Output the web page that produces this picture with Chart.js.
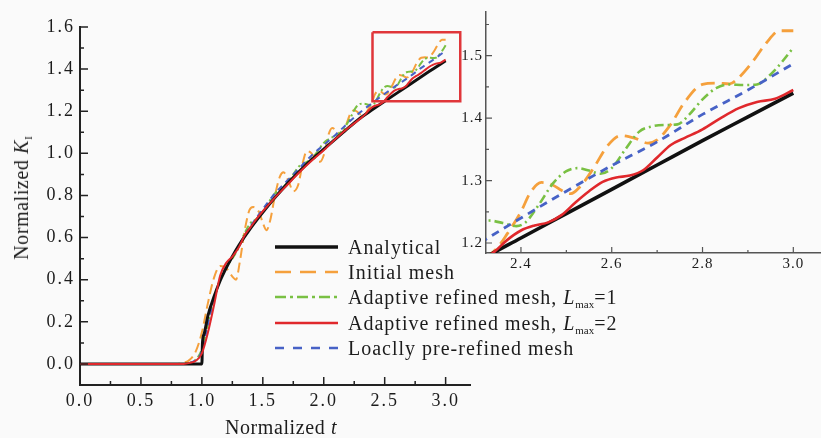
<!DOCTYPE html>
<html>
<head>
<meta charset="utf-8">
<script src="https://cdn.jsdelivr.net/npm/chart.js@4.4.1/dist/chart.umd.min.js"></script>
<style>
  html, body { margin: 0; padding: 0; background: #fafafa; }
  #wrap { position: relative; width: 821px; height: 438px; overflow: hidden;
          font-family: "Liberation Serif", "Times New Roman", serif; color: #1c1c1c; }
  #mainBox { position: absolute; left: 0; top: 0; width: 480px; height: 438px; }
  #insetBox { position: absolute; left: 430px; top: 0; width: 391px; height: 290px; }
  .ttl { position: absolute; font-size: 20px; letter-spacing: 0.6px; white-space: nowrap;
         transform: translate(-50%, -50%); line-height: 1; }
  #yTitle { left: 21px; top: 198px; transform: translate(-50%, -50%) rotate(-90deg); }
  #xTitle { left: 281px; top: 427px; }
  #legend { position: absolute; left: 275px; top: 234px; }
  .row { display: flex; align-items: center; height: 25.3px; }
  .row svg { width: 63px; height: 10px; margin-right: 10px; flex: none; }
  .row span { font-size: 20px; letter-spacing: 1px; white-space: nowrap; line-height: 1; }
  sub { font-size: 11px; vertical-align: -4px; letter-spacing: 0; line-height: 0; }
</style>
</head>
<body>
<div id="wrap">
  <div id="mainBox"><canvas id="mainChart"></canvas></div>
  <div id="insetBox"><canvas id="insetChart"></canvas></div>
  <div class="ttl" id="yTitle">Normalized <i>K</i><sub>I</sub></div>
  <div class="ttl" id="xTitle">Normalized <i>t</i></div>
  <div id="legend"></div>
</div>
<script>
// analytical solution
const analyticalT = [0, 1.0, 1.005, 1.02, 1.05, 1.1, 1.15, 1.2, 1.25, 1.3, 1.4, 1.5, 1.6, 1.7, 1.8, 1.9,
  2.0, 2.1, 2.2, 2.3, 2.4, 2.5, 2.6, 2.7, 2.8, 2.9, 3.0];
const analyticalK = [0, 0, 0.10, 0.145, 0.23, 0.32, 0.395, 0.456, 0.51, 0.56, 0.645, 0.72, 0.79, 0.855, 0.915, 0.97,
  1.02, 1.07, 1.12, 1.168, 1.208, 1.247, 1.286, 1.325, 1.364, 1.402, 1.44];

// initial mesh
const initialT = [0, 0.8, 0.85, 0.9, 0.95, 1.0, 1.05, 1.1, 1.15, 1.2, 1.25, 1.28, 1.31, 1.35, 1.39, 1.42, 1.47, 1.5,
  1.53, 1.56, 1.6, 1.64, 1.67, 1.71, 1.75, 1.79, 1.83, 1.86, 1.9, 1.94, 1.97, 2.01, 2.04, 2.07, 2.1, 2.14, 2.18,
  2.22, 2.25, 2.28, 2.32, 2.345, 2.37, 2.4, 2.42, 2.445, 2.47, 2.49, 2.51, 2.53, 2.56, 2.59, 2.62, 2.65, 2.68,
  2.7, 2.73, 2.76, 2.8, 2.83, 2.86, 2.88, 2.91, 2.94, 2.97, 3.0];
const initialK = [0, 0, 0.005, 0.02, 0.06, 0.15, 0.29, 0.41, 0.465, 0.455, 0.415, 0.40, 0.48, 0.63, 0.73, 0.745, 0.72, 0.67,
  0.635, 0.68, 0.80, 0.89, 0.91, 0.87, 0.82, 0.85, 0.96, 1.01, 1.0, 0.965, 0.96, 1.01, 1.09, 1.12, 1.11, 1.09, 1.13,
  1.19, 1.205, 1.195, 1.178, 1.19, 1.215, 1.25, 1.28, 1.297, 1.293, 1.284, 1.279, 1.29, 1.32, 1.355, 1.372, 1.368, 1.36,
  1.365, 1.39, 1.425, 1.454, 1.456, 1.455, 1.465, 1.49, 1.52, 1.54, 1.54];

// adaptive refined mesh, Lmax = 1
const adaptive1T = [0, 0.85, 0.9, 0.95, 1.0, 1.05, 1.1, 1.15, 1.2, 1.25, 1.3, 1.35, 1.4, 1.45, 1.5, 1.55, 1.6, 1.65,
  1.7, 1.75, 1.8, 1.85, 1.9, 1.95, 2.0, 2.05, 2.1, 2.14, 2.18, 2.22, 2.26, 2.3, 2.33, 2.36, 2.39, 2.41, 2.44, 2.47,
  2.5, 2.525, 2.55, 2.575, 2.6, 2.63, 2.66, 2.69, 2.72, 2.745, 2.77, 2.8, 2.83, 2.86, 2.89, 2.92, 2.95, 2.975, 3.0];
const adaptive1K = [0, 0, 0.005, 0.02, 0.07, 0.19, 0.31, 0.40, 0.46, 0.50, 0.55, 0.62, 0.67, 0.69, 0.72, 0.77, 0.81, 0.83,
  0.86, 0.90, 0.94, 0.955, 0.975, 1.01, 1.05, 1.07, 1.085, 1.10, 1.13, 1.17, 1.215, 1.235, 1.236, 1.232, 1.227, 1.233,
  1.262, 1.295, 1.315, 1.32, 1.316, 1.311, 1.32, 1.35, 1.378, 1.387, 1.389, 1.39, 1.405, 1.43, 1.448, 1.454, 1.453,
  1.454, 1.47, 1.49, 1.513];

// adaptive refined mesh, Lmax = 2
const adaptive2T = [0, 0.85, 0.9, 0.95, 1.0, 1.05, 1.1, 1.15, 1.2, 1.25, 1.3, 1.35, 1.4, 1.45, 1.5, 1.6, 1.7, 1.8,
  1.9, 2.0, 2.1, 2.2, 2.3, 2.34, 2.37, 2.4, 2.43, 2.46, 2.49, 2.52, 2.55, 2.58, 2.61, 2.64, 2.67, 2.7, 2.73, 2.76,
  2.8, 2.84, 2.88, 2.92, 2.96, 3.0];
const adaptive2K = [0, 0, 0.005, 0.015, 0.05, 0.15, 0.28, 0.42, 0.48, 0.51, 0.55, 0.61, 0.65, 0.69, 0.725, 0.79, 0.85, 0.91,
  0.965, 1.015, 1.07, 1.12, 1.165, 1.185, 1.205, 1.22, 1.228, 1.233, 1.245, 1.265, 1.283, 1.298, 1.305, 1.308, 1.317,
  1.337, 1.357, 1.368, 1.382, 1.40, 1.416, 1.426, 1.431, 1.445];

// locally pre-refined mesh
const preRefinedT = [0, 0.85, 0.9, 0.95, 1.0, 1.05, 1.1, 1.15, 1.2, 1.3, 1.4, 1.5, 1.6, 1.7, 1.8, 1.9, 2.0, 2.1,
  2.2, 2.31, 2.4, 2.5, 2.6, 2.7, 2.8, 2.9, 3.0];
const preRefinedK = [0, 0, 0.005, 0.02, 0.06, 0.19, 0.31, 0.40, 0.46, 0.56, 0.655, 0.735, 0.81, 0.87, 0.93, 0.99, 1.04, 1.09,
  1.145, 1.20, 1.24, 1.283, 1.324, 1.362, 1.406, 1.445, 1.487];

// zoom window marked on the main plot
const zoomBoxT = [2.4, 3.12, 3.12, 2.4, 2.4];
const zoomBoxK = [1.575, 1.575, 1.247, 1.247, 1.575];

// ticks
const mainXTicks = [0.0, 0.5, 1.0, 1.5, 2.0, 2.5, 3.0];
const mainXMinor = [0.25, 0.75, 1.25, 1.75, 2.25, 2.75];
const mainYTicks = [0.0, 0.2, 0.4, 0.6, 0.8, 1.0, 1.2, 1.4, 1.6];
const mainYMinor = [-0.1, 0.1, 0.3, 0.5, 0.7, 0.9, 1.1, 1.3, 1.5];
const insetXTicks = [2.4, 2.6, 2.8, 3.0];
const insetXMinor = [2.5, 2.7, 2.9];
const insetYTicks = [1.2, 1.3, 1.4, 1.5];
const insetYMinor = [1.25, 1.35, 1.45, 1.55];

const series = [
  { label: 'Adaptive refined mesh, L_max=2', t: adaptive2T, k: adaptive2K, color: '#e0282c', dash: [], w: 2, wi: 2.6 },
  { label: 'Analytical', t: analyticalT, k: analyticalK, color: '#111111', dash: [], w: 3, wi: 3.6 },
  { label: 'Loaclly pre-refined mesh', t: preRefinedT, k: preRefinedK, color: '#4762c6', dash: [6, 5], dashI: [8, 6], w: 2, wi: 2.8 },
  { label: 'Adaptive refined mesh, L_max=1', t: adaptive1T, k: adaptive1K, color: '#79c043', dash: [7, 3, 2, 3], dashI: [9, 4, 2, 4], w: 2, wi: 2.6 },
  { label: 'Initial mesh', t: initialT, k: initialK, color: '#f5a03c', dash: [10, 5], dashI: [14, 7], w: 2, wi: 2.8 },
];

function lineSet(s, inset) {
  return {
    label: s.label,
    data: s.t.map((v, i) => ({ x: v, y: s.k[i] })),
    borderColor: s.color,
    borderWidth: inset ? s.wi : s.w,
    borderDash: inset ? (s.dashI || s.dash) : s.dash,
    pointRadius: 0,
    fill: false,
    cubicInterpolationMode: 'monotone',
  };
}

// inward major/minor tick marks
const tickMarks = {
  id: 'tickMarks',
  afterDatasetsDraw(chart, args, opts) {
    const { ctx, chartArea, scales: { x, y } } = chart;
    ctx.save();
    ctx.strokeStyle = opts.color;
    ctx.lineWidth = opts.width;
    ctx.beginPath();
    const mark = (scale, values, len) => {
      values.forEach(v => {
        const p = scale.getPixelForValue(v);
        if (scale.isHorizontal()) {
          ctx.moveTo(p, chartArea.bottom);
          ctx.lineTo(p, chartArea.bottom - len);
        } else {
          ctx.moveTo(chartArea.left, p);
          ctx.lineTo(chartArea.left + len, p);
        }
      });
    };
    mark(x, opts.xMajor, opts.major);
    mark(x, opts.xMinor, opts.minor);
    mark(y, opts.yMajor, opts.major);
    mark(y, opts.yMinor, opts.minor);
    ctx.stroke();
    ctx.restore();
  }
};

const textSpacing = {
  id: 'textSpacing',
  beforeDraw(chart, args, opts) { chart.ctx.letterSpacing = opts.value; }
};

const serif = "'Liberation Serif', 'Times New Roman', serif";

function axis(min, max, ticks, fontSize, pad, size, horizontal, border) {
  return {
    type: 'linear', min, max,
    afterFit: s => { if (horizontal) s.height = size; else s.width = size; },
    afterBuildTicks: s => { s.ticks = ticks.map(v => ({ value: v })); },
    ticks: {
      color: '#1c1c1c', padding: pad, maxRotation: 0, autoSkip: false,
      font: { family: serif, size: fontSize },
      callback: v => Number(v).toFixed(1),
    },
    grid: { display: false, drawTicks: false },
    border: border,
  };
}

const mainChart = new Chart(document.getElementById('mainChart'), {
  type: 'line',
  data: {
    datasets: [
      {
        label: 'zoom box',
        data: zoomBoxT.map((v, i) => ({ x: v, y: zoomBoxK[i] })),
        borderColor: '#e0363a', borderWidth: 2.5, pointRadius: 0, tension: 0, fill: false,
      },
      ...series.map(s => lineSet(s, false)),
    ],
  },
  options: {
    responsive: true, maintainAspectRatio: false, animation: false,
    layout: { padding: { left: 0, right: 10, top: 27, bottom: 0 } },
    plugins: {
      legend: { display: false }, tooltip: { enabled: false },
      tickMarks: { color: '#222', width: 1.5, major: 8, minor: 4,
        xMajor: mainXTicks, xMinor: mainXMinor, yMajor: mainYTicks, yMinor: mainYMinor },
      textSpacing: { value: '2px' },
    },
    scales: {
      x: axis(0, 3.2, mainXTicks, 18, 5, 53, true, { display: true, color: '#222', width: 2 }),
      y: axis(-0.1, 1.6, mainYTicks, 18, 5, 80, false, { display: true, color: '#222', width: 2 }),
    },
  },
  plugins: [tickMarks, textSpacing],
});

const insetChart = new Chart(document.getElementById('insetChart'), {
  type: 'line',
  data: { datasets: series.map(s => lineSet(s, true)) },
  options: {
    responsive: true, maintainAspectRatio: false, animation: false,
    layout: { padding: { left: 0, right: 0, top: 7, bottom: 0 } },
    plugins: {
      legend: { display: false }, tooltip: { enabled: false },
      tickMarks: { color: '#555', width: 1.2, major: 6, minor: 3,
        xMajor: insetXTicks, xMinor: insetXMinor, yMajor: insetYTicks, yMinor: insetYMinor },
      textSpacing: { value: '1px' },
    },
    scales: {
      x: axis(2.323, 3.061, insetXTicks, 15, 2, 37, true, { display: true, color: '#555', width: 1.5 }),
      y: axis(1.184, 1.570, insetYTicks, 15, 3, 56, false, { display: true, color: '#555', width: 1.5 }),
    },
  },
  plugins: [tickMarks, textSpacing],
});

// legend built from the same series list, in the reference order
const legendOrder = ['Analytical', 'Initial mesh', 'Adaptive refined mesh, L_max=1',
  'Adaptive refined mesh, L_max=2', 'Loaclly pre-refined mesh'];
const legendDash = { 'Initial mesh': '16 9', 'Adaptive refined mesh, L_max=1': '11 4 3 4',
  'Loaclly pre-refined mesh': '9 9' };
const legendEl = document.getElementById('legend');
legendOrder.forEach(name => {
  const s = series.find(d => d.label === name);
  const row = document.createElement('div');
  row.className = 'row';
  const w = name === 'Analytical' ? 3.5 : 2.5;
  const dash = legendDash[name] ? ` stroke-dasharray="${legendDash[name]}"` : '';
  const text = name.replace(/L_max=(\d)/, '<i>L</i><sub>max</sub>=$1');
  row.innerHTML = `<svg viewBox="0 0 63 10"><line x1="0" y1="5" x2="63" y2="5" stroke="${s.color}" stroke-width="${w}"${dash}/></svg><span>${text}</span>`;
  legendEl.appendChild(row);
});
</script>
</body>
</html>
